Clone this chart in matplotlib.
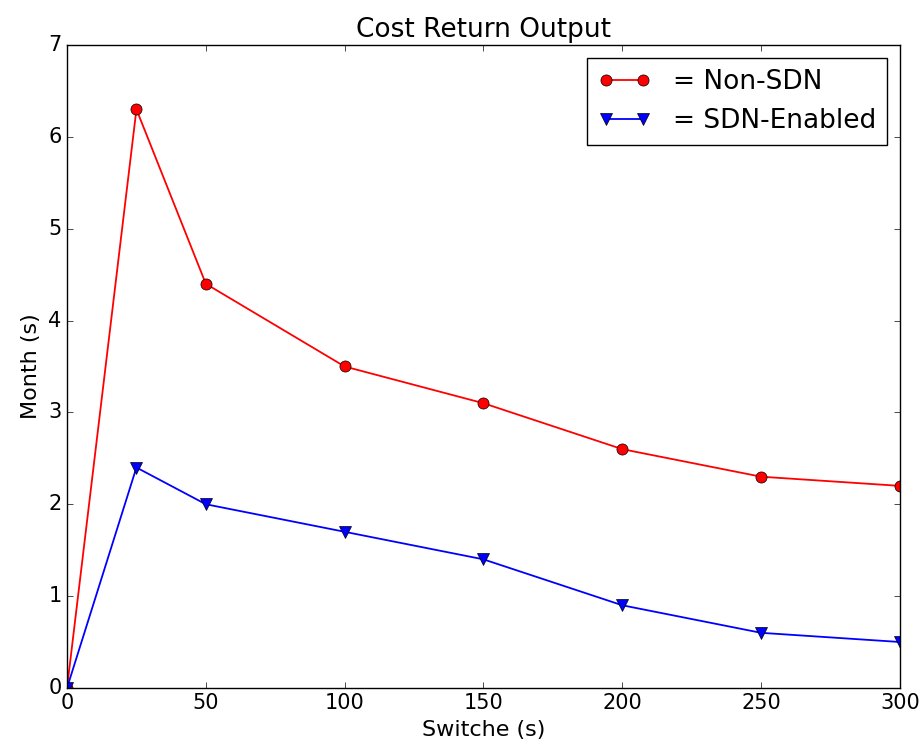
import matplotlib
matplotlib.use('Agg')
import matplotlib.pyplot as plt

# Datos
switches = [0, 25, 50, 100, 150, 200, 250, 300]
non_sdn = [0, 6.3, 4.4, 3.5, 3.1, 2.6, 2.3, 2.2]
sdn_enabled = [0, 2.4, 2.0, 1.7, 1.4, 0.9, 0.6, 0.5]

plt.style.use('classic')
fig = plt.figure(figsize=(9.22, 7.51), dpi=100, facecolor='white')
ax = fig.add_axes([0.0727, 0.084, 0.9033, 0.856])

ax.plot(switches, non_sdn, 'r-o', markersize=8, linewidth=1.3, label='= Non-SDN')
ax.plot(switches, sdn_enabled, 'b-v', markersize=8, linewidth=1.3, label='= SDN-Enabled')

ax.set_xlim(0, 300)
ax.set_ylim(0, 7)
ax.set_xticks([0, 50, 100, 150, 200, 250, 300])
ax.tick_params(labelsize=15)
ax.set_title('Cost Return Output', fontsize=19, pad=6)
ax.set_xlabel('Switche (s)', fontsize=16)
ax.set_ylabel('Month (s)', fontsize=16)
ax.legend(loc='upper right', fontsize=19, numpoints=2, handlelength=2.0,
          handletextpad=0.85)

plt.savefig('out.png', dpi=100, facecolor='white')
